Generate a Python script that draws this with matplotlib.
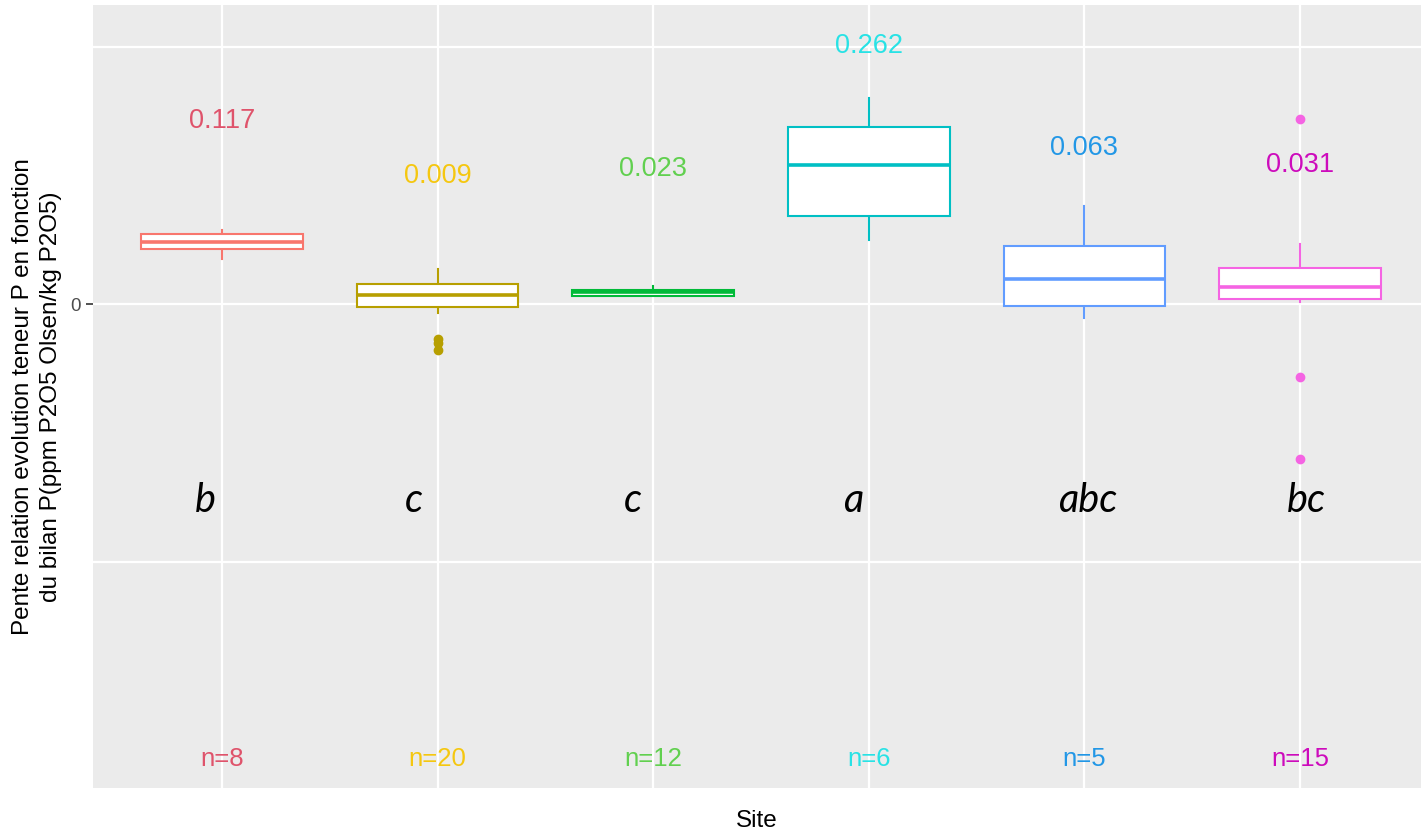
import matplotlib
matplotlib.use("Agg")
import matplotlib.pyplot as plt

# Slope of P content change vs P balance, per site
sites = ["1", "2", "3", "4", "5", "6"]
q1 = [0.107, -0.005, 0.017, 0.171, -0.003, 0.010]
medians = [0.121, 0.019, 0.024, 0.271, 0.049, 0.034]
q3 = [0.136, 0.039, 0.028, 0.345, 0.114, 0.071]
whisker_low = [0.088, -0.016, 0.017, 0.125, -0.027, 0.005]
whisker_high = [0.144, 0.069, 0.036, 0.400, 0.191, 0.118]
outliers = [[], [-0.068, -0.076, -0.088], [], [], [], [0.359, -0.142, -0.300]]
means = [0.117, 0.009, 0.023, 0.262, 0.063, 0.031]
counts = [8, 20, 12, 6, 5, 15]
groups = ["b", "c", "c", "a", "abc", "bc"]

box_colors = ["#F8766D", "#B79F00", "#00BA38", "#00BFC4", "#619CFF", "#F564E3"]
text_colors = ["#DF536B", "#F5C710", "#61D04F", "#28E2E5", "#2297E6", "#CD0BBC"]
group_nudge = [-0.076, -0.11, -0.093, -0.074, 0.014, 0.028]

W, H = 1421, 836
fig = plt.figure(figsize=(W / 100, H / 100), dpi=100)
ax = fig.add_axes([93 / W, 48 / H, (W - 93) / W, (788 - 5) / H])
ax.set_facecolor("#EBEBEB")
for s in ax.spines.values():
    s.set_visible(False)

positions = list(range(1, len(sites) + 1))

stats = []
for i in range(len(sites)):
    stats.append(dict(q1=q1[i], med=medians[i], q3=q3[i],
                      whislo=whisker_low[i], whishi=whisker_high[i],
                      fliers=outliers[i], label=sites[i]))

bp = ax.bxp(stats, positions=positions, widths=0.75, patch_artist=True,
            showcaps=False, showfliers=True, manage_ticks=False)
for i, c in enumerate(box_colors):
    bp["boxes"][i].set(facecolor="white", edgecolor=c, lw=1.5, zorder=3)
    bp["medians"][i].set(color=c, lw=2.6, zorder=4, solid_capstyle="butt")
    for w in bp["whiskers"][2 * i:2 * i + 2]:
        w.set(color=c, lw=1.5, zorder=2)
    bp["fliers"][i].set(marker="o", markerfacecolor=c, markeredgecolor=c,
                        markersize=6, zorder=5)

# grid and ticks
ax.set_axisbelow(True)
ax.set_yticks([0])
ax.set_yticklabels(["0"], fontsize=13.5, color="#4D4D4D", family="Liberation Sans")
ax.set_yticks([-0.5, 0.5], minor=True)
ax.tick_params(axis="y", which="major", length=5, width=1.2, color="#333333", pad=4)
ax.tick_params(axis="y", which="minor", length=0)
ax.grid(True, axis="y", which="both", color="white", lw=1.6)
ax.set_xticks(positions)
ax.set_xticklabels([])
ax.tick_params(axis="x", length=0, pad=0)
ax.grid(True, axis="x", color="white", lw=1.6)

for i, x in enumerate(positions):
    ax.text(x, means[i] + 0.226, f"{means[i]:.3f}", ha="center", va="baseline",
            fontsize=19.5, color=text_colors[i], family="Liberation Sans")
    ax.text(x + group_nudge[i], -0.4026, groups[i], ha="center", va="baseline",
            fontsize=28.5, style="italic", weight="normal", color="black", family="Lato")
    ax.text(x, -0.896, f"n={counts[i]}", ha="center", va="baseline",
            fontsize=18.5, color=text_colors[i], family="Liberation Sans")

ax.set_xlim(0.4017, 6.561)
ax.set_ylim(-0.939, 0.581)

ax.set_xlabel("Site", fontsize=17.5, family="Liberation Sans", color="black", labelpad=16)
ax.set_ylabel("Pente relation evolution teneur P en fonction\ndu bilan P(ppm P2O5 Olsen/kg P2O5)",
              fontsize=17.5, family="Liberation Sans", color="black", linespacing=1.35,
              multialignment="center", labelpad=6)

fig.savefig("out.png", dpi=100, facecolor="white")
